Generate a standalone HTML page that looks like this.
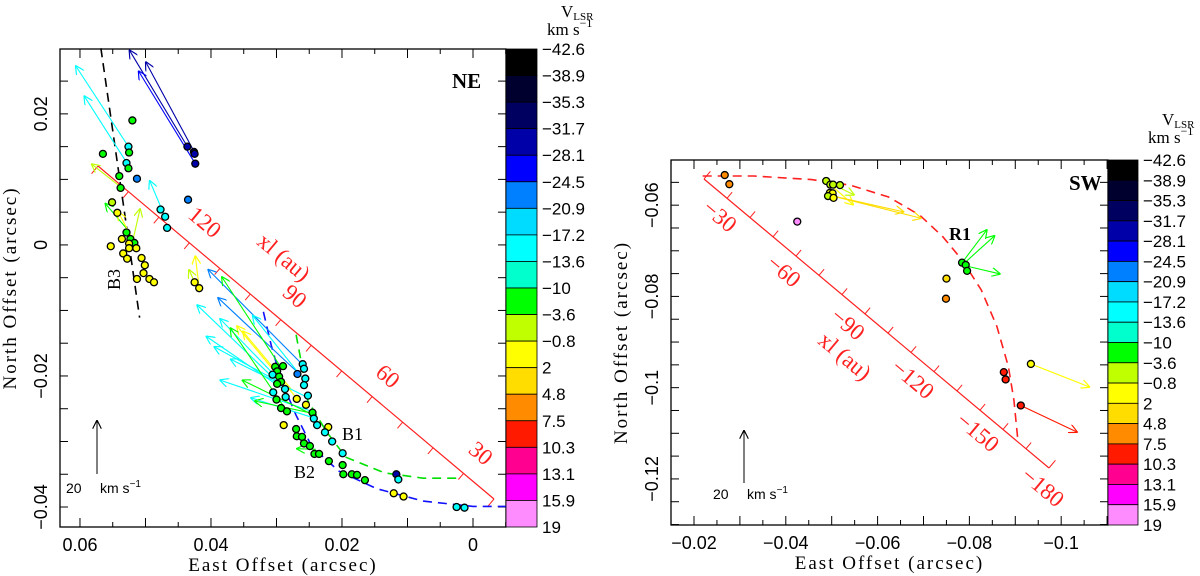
<!DOCTYPE html>
<html><head><meta charset="utf-8"><style>
html,body{margin:0;padding:0;background:#fff;}
svg{display:block;font-family:"Liberation Sans",sans-serif;}
</style></head><body>
<svg id="fig" width="1200" height="576" viewBox="0 0 1200 576">
<defs>
<marker id="ah" viewBox="0 0 10 10" refX="10" refY="5" markerWidth="9" markerHeight="9" orient="auto" markerUnits="userSpaceOnUse"><path d="M0,0 L10,5 L0,10" fill="none" stroke="context-stroke" stroke-width="1.3"/></marker>
</defs>
</svg>
<script>
const cbBounds=[-42.6,-38.9,-35.3,-31.7,-28.1,-24.5,-20.9,-17.2,-13.6,-10,-3.6,-0.8,2,4.8,7.5,10.3,13.1,15.9,19];
const cbColors=["#000000","#00002e","#000060","#0000a8","#0000ff","#0080ff","#00dcff","#00ffff","#00ffcc","#00ff00","#bfff00","#ffff00","#ffdd00","#ff8c00","#ff1a00","#ff0090","#ff00ff","#ff8cff"];
const cbLabels=["−42.6","−38.9","−35.3","−31.7","−28.1","−24.5","−20.9","−17.2","−13.6","−10","−3.6","−0.8","2","4.8","7.5","10.3","13.1","15.9","19"];

// NE panel spots: x (arcsec), y (arcsec), velocity
const neX=[0.0436,0.0426,0.0425,0.0424,0.0526,0.0525,0.0529,0.0526,0.0520,0.0565,0.0540,0.0513,0.0538,0.0551,0.0543,0.0435,0.0477,0.0470,0.0467,0.0529,0.0536,0.0523,0.0517,0.0525,0.0514,0.0525,0.0553,0.0534,0.0528,0.0506,0.0501,0.0503,0.0513,0.0494,0.0487,0.0425,0.0418,0.0302,0.0299,0.0290,0.0306,0.0296,0.0293,0.0299,0.0287,0.0305,0.0300,0.0286,0.0293,0.0284,0.0289,0.0269,0.0268,0.0260,0.0258,0.0256,0.0258,0.0252,0.0255,0.0245,0.0243,0.0238,0.0221,0.0226,0.0215,0.0270,0.0269,0.0261,0.0258,0.0249,0.0242,0.0235,0.0220,0.0199,0.0199,0.0198,0.0185,0.0177,0.0165,0.0117,0.0114,0.0121,0.0106,0.0025,0.0013];
const neY=[0.0150,0.0142,0.0139,0.0124,0.0150,0.0141,0.0125,0.0117,0.0190,0.0139,0.0105,0.0101,0.0087,0.0065,0.0049,0.0069,0.0054,0.0043,0.0026,0.0019,0.0009,0.0009,0.0003,0.0002,-0.0005,-0.0005,-0.0002,-0.0013,-0.0021,-0.0020,-0.0031,-0.0043,-0.0052,-0.0052,-0.0057,-0.0057,-0.0066,-0.0186,-0.0193,-0.0185,-0.0198,-0.0201,-0.0209,-0.0212,-0.0220,-0.0225,-0.0236,-0.0232,-0.0249,-0.0254,-0.0275,-0.0235,-0.0197,-0.0182,-0.0189,-0.0204,-0.0214,-0.0230,-0.0244,-0.0256,-0.0265,-0.0275,-0.0278,-0.0286,-0.0300,-0.0281,-0.0292,-0.0293,-0.0303,-0.0307,-0.0319,-0.0319,-0.0330,-0.0318,-0.0336,-0.0350,-0.0350,-0.0351,-0.0359,-0.0350,-0.0358,-0.0379,-0.0384,-0.0400,-0.0401];
const neV=[-30,-33,-30,-30,-15,-6,-15,-6,-6,-6,-6,-22,-6,-2,0,-22,-15,-15,-15,-6,0,-6,-6,0,0,0,0,0,0,0,0,0,0,0,0,0,0,-6,-6,-6,-15,-6,-6,-6,-15,-15,-6,-15,-6,-6,0,0,-22,-15,-15,-15,-15,-15,0,-6,-15,-15,0,-15,-15,-6,-6,-6,-6,-6,-6,-6,-6,-15,-6,-6,-6,-6,-6,-30,-15,0,0,-15,-15];
// NE panel proper-motion vectors
const neAX0=[0.0436,0.0425,0.0424,0.0526,0.0529,0.0536,0.0469,0.0528,0.0522,0.0519,0.0425,0.0418,0.0261,0.0264,0.0287,0.0293,0.0296,0.0287,0.0302,0.0270,0.0276,0.0258,0.0252,0.0246,0.0243,0.0240,0.0245,0.0284,0.0240];
const neAY0=[0.0150,0.0141,0.0124,0.0150,0.0126,0.0087,0.0040,0.0024,0.0013,0.0008,-0.0057,-0.0066,-0.0182,-0.0198,-0.0220,-0.0187,-0.0206,-0.0222,-0.0206,-0.0233,-0.0222,-0.0206,-0.0233,-0.0254,-0.0260,-0.0265,-0.0257,-0.0254,-0.0312];
const neAX1=[0.0525,0.0500,0.0511,0.0607,0.0594,0.0583,0.0494,0.0562,0.0542,0.0508,0.0434,0.0424,0.0405,0.0390,0.0422,0.0384,0.0387,0.0408,0.0396,0.0361,0.0352,0.0337,0.0371,0.0387,0.0353,0.0340,0.0334,0.0371,0.0270];
const neAY1=[0.0298,0.0280,0.0266,0.0274,0.0228,0.0124,0.0099,0.0064,0.0051,0.0056,-0.0037,-0.0016,-0.0037,-0.0080,-0.0091,-0.0048,-0.0112,-0.0139,-0.0155,-0.0123,-0.0131,-0.0107,-0.0174,-0.0206,-0.0206,-0.0233,-0.0238,-0.0126,-0.0311];
const neAV=[-30,-30,-26,-15,-15,-2,-15,-6,0,-2,-2,0,-22,-22,-15,-6,-15,-15,-15,0,0,-15,-15,-15,-6,-15,-6,-6,-6];
// NE model curves
const neGreenX=[0.0270,0.0261,0.0252,0.0223,0.0194,0.0135,0.0076,0.0018];
const neGreenY=[-0.0137,-0.0185,-0.0238,-0.0286,-0.0324,-0.0348,-0.0356,-0.0356];
const neBlueX=[0.0320,0.0308,0.0293,0.0270,0.0246,0.0205,0.0147,0.0076,0.0,-0.005];
const neBlueY=[-0.0102,-0.0153,-0.0206,-0.0260,-0.0308,-0.0345,-0.0372,-0.0391,-0.0399,-0.0399];
const neB3X=[0.0568,0.0509];
const neB3Y=[0.0300,-0.0111];

// SW panel spots
const swX=[-0.0267,-0.0277,-0.0425,-0.0488,-0.0497,-0.0503,-0.0518,-0.0496,-0.0502,-0.0492,-0.0504,-0.0784,-0.0792,-0.0795,-0.0750,-0.0749,-0.0875,-0.0879,-0.0934,-0.0912];
const swY=[-0.0534,-0.0554,-0.0636,-0.0547,-0.0555,-0.0555,-0.0556,-0.0573,-0.0574,-0.0580,-0.0584,-0.0726,-0.0731,-0.0744,-0.0761,-0.0805,-0.0966,-0.0982,-0.0948,-0.1039];
const swV=[6,6,17,-2,-2,-2,-2,0,0,-2,0,-6,-6,-6,3,6,9,9,0,9];
const swAX0=[-0.0503,-0.0503,-0.0503,-0.0503,-0.0784,-0.0788,-0.0792,-0.0934,-0.0912];
const swAY0=[-0.0555,-0.0560,-0.0580,-0.0580,-0.0726,-0.0728,-0.0733,-0.0948,-0.1039];
const swAX1=[-0.0550,-0.0548,-0.0658,-0.0696,-0.0839,-0.0856,-0.0868,-0.1063,-0.1036];
const swAY1=[-0.0578,-0.0600,-0.0615,-0.0629,-0.0653,-0.0666,-0.0751,-0.0999,-0.1098];
const swAV=[-2,0,3,3,-6,-6,-6,0,9];
const swCurveX=[-0.0219,-0.0330,-0.0456,-0.0540,-0.0624,-0.0692,-0.0742,-0.0784,-0.0826,-0.0860,-0.0885,-0.0897,-0.0906];
const swCurveY=[-0.0536,-0.0536,-0.0544,-0.0556,-0.0582,-0.0622,-0.0669,-0.0720,-0.0786,-0.0866,-0.0954,-0.1027,-0.1118];

const NS='http://www.w3.org/2000/svg';
const svg=document.getElementById('fig');
function mk(tag,attrs,parent,text){const e=document.createElementNS(NS,tag);for(const k in attrs)e.setAttribute(k,attrs[k]);if(text!==undefined)e.textContent=text;(parent||svg).appendChild(e);return e;}
function vcol(v){for(let i=0;i<cbColors.length;i++){if(v<=cbBounds[i+1])return cbColors[i];}return cbColors[cbColors.length-1];}

function panel(P){
  const g=mk('g',{});
  
  
  const sx=v=>P.x0+(v-P.xa)/(P.xb-P.xa)*(P.x1-P.x0);
  const sy=v=>P.y0+(v-P.ya)/(P.yb-P.ya)*(P.y1-P.y0);
  P.sx=sx;P.sy=sy;
  const fr=mk('rect',{x:P.x0,y:P.y0,width:P.x1-P.x0,height:P.y1-P.y0,fill:'none',stroke:'#000','stroke-width':1.3},g);
  
  
  const xs=Math.min(P.xa,P.xb),xe=Math.max(P.xa,P.xb);
  for(let t=Math.ceil(xs/0.005-1e-6)*0.005;t<=xe+1e-9;t+=0.005){
    const px=sx(t);const major=Math.abs(Math.round(t/0.01)*0.01-t)<1e-6;const L=major?9:5;
    mk('line',{x1:px,y1:P.y1,x2:px,y2:P.y1-L,stroke:'#000','stroke-width':1},g);
    mk('line',{x1:px,y1:P.y0,x2:px,y2:P.y0+L,stroke:'#000','stroke-width':1},g);
  }
  const ys=Math.min(P.ya,P.yb),ye=Math.max(P.ya,P.yb);
  for(let t=Math.ceil(ys/0.005-1e-6)*0.005;t<=ye+1e-9;t+=0.005){
    const py=sy(t);
    mk('line',{x1:P.x0,y1:py,x2:P.x0+8,y2:py,stroke:'#000','stroke-width':1},g);
    mk('line',{x1:P.x1,y1:py,x2:P.x1-8,y2:py,stroke:'#000','stroke-width':1},g);
  }
  P.xTicks.forEach((t,i)=>{const e=mk('text',{x:sx(t),y:P.y1+24,'font-size':18,'text-anchor':'middle'},g,P.xTickLabels[i]);
    });
  P.yTicks.forEach((t,i)=>{const py=sy(t);const e=mk('text',{x:P.x0-13,y:py,'font-size':18,'text-anchor':'middle',transform:`rotate(-90 ${P.x0-13} ${py})`},g,P.yTickLabels[i]);
    });
  const xt=mk('text',{x:(P.x0+P.x1)/2,y:P.y1+44,'font-size':19,'text-anchor':'middle','font-family':'Liberation Serif, serif','letter-spacing':'2'},g,'East Offset (arcsec)');
  
  const yx=P.x0-44,yy=(P.y0+P.y1)/2;
  const yt=mk('text',{x:yx,y:yy,'font-size':19,'text-anchor':'middle','font-family':'Liberation Serif, serif','letter-spacing':'2',transform:`rotate(-90 ${yx} ${yy})`},g,'North Offset (arcsec)');
  
  const cb=mk('g',{},g);
  
  const h=(P.y1-P.y0)/cbColors.length;
  cbColors.forEach((c,i)=>{const r=mk('rect',{x:P.x1,y:P.y0+i*h,width:P.cbw,height:h,fill:c,stroke:'#000','stroke-width':0.8},cb);
    });
  cbLabels.forEach((l,i)=>{const e=mk('text',{x:P.x1+P.cbw+5,y:P.y0+i*h+6,'font-size':17},cb,l);
    });
  const hx=P.x1+P.cbw+8;
  const v=mk('text',{x:hx+16,y:P.y0-P.hdr1,'font-size':17,'font-family':'Liberation Serif, serif'},cb);
  
  mk('tspan',{},v,'V');mk('tspan',{'font-size':11,dy:3},v,'LSR');
  const k=mk('text',{x:hx+2,y:P.y0-P.hdr2,'font-size':17,'font-family':'Liberation Serif, serif'},cb);
  
  mk('tspan',{},k,'km  s');mk('tspan',{'font-size':12,dy:-8},k,'−1');
  return g;
}
function curve(P,g,X,Y,color,name){
  const d=X.map((x,i)=>(i?'L':'M')+P.sx(x).toFixed(1)+','+P.sy(Y[i]).toFixed(1)).join(' ');
  const p=mk('path',{d:d,fill:'none',stroke:color,'stroke-width':1.6,'stroke-dasharray':'9 6'},g);
  
}
function arrows(P,g,X0,Y0,X1,Y1,V){
  X0.forEach((x,i)=>{const c=vcol(V[i]);
    const a=mk('line',{x1:P.sx(x),y1:P.sy(Y0[i]),x2:P.sx(X1[i]),y2:P.sy(Y1[i]),stroke:c,'stroke-width':1.1,'marker-end':'url(#ah)'},g);
    });
}
function spots(P,g,X,Y,V){
  X.forEach((x,i)=>{const s=mk('circle',{cx:P.sx(x),cy:P.sy(Y[i]),r:3.5,fill:vcol(V[i]),stroke:'#000','stroke-width':1.3},g);
    });
}
function redAxis(g,ax,ay,bx,by,nt,side,labels,name){
  const ag=mk('g',{},g);
  mk('line',{x1:ax,y1:ay,x2:bx,y2:by,stroke:'#ff2020','stroke-width':1.2},ag);
  const L=Math.hypot(bx-ax,by-ay),ux=(bx-ax)/L,uy=(by-ay)/L;const nx=uy*side,ny=-ux*side;
  for(let i=0;i<=nt;i++){const px=ax+ux*L*i/nt,py=ay+uy*L*i/nt;const l=(i==0||i==nt)?10:8;
    mk('line',{x1:px,y1:py,x2:px+nx*l,y2:py+ny*l,stroke:'#ff2020','stroke-width':1},ag);}
  labels.forEach(t=>{const e=mk('text',{x:t[0],y:t[1],'font-size':23,fill:'#ff2020','text-anchor':'middle','font-family':'Liberation Serif, serif',transform:`rotate(40 ${t[0]} ${t[1]})`},ag,t[2]);
    });
}
function txt(x,y,s,size,name,extra){const e=mk('text',Object.assign({x:x,y:y,'font-size':size,'font-family':'Liberation Serif, serif'},extra||{}),svg,s);
  return e;}
function scaleArrow(x,ya,yb,lx,ly){
  const g=mk('g',{});
  mk('line',{x1:x,y1:ya,x2:x,y2:yb,stroke:'#000','stroke-width':1,'marker-end':'url(#ah)'},g);
  mk('text',{x:lx,y:ly,'font-size':14},g,'20');
  const k=mk('text',{x:lx+34,y:ly,'font-size':14},g);mk('tspan',{},k,'km  s');mk('tspan',{'font-size':10,dy:-6},k,'−1');
}

const NE={name:'ne-panel',x0:60,x1:506,y0:49,y1:527,xa:0.06305,xb:-0.00504,ya:0.0299,yb:-0.04305,cbw:31,hdr1:32,hdr2:14,
  xTicks:[0.06,0.04,0.02,0],xTickLabels:['0.06','0.04','0.02','0'],yTicks:[0.02,0,-0.02,-0.04],yTickLabels:['0.02','0','−0.02','−0.04']};
const gNE=panel(NE);
redAxis(gNE,98,166,494,499,13,-1,[[200,228,'120'],[290,302,'90'],[383,382,'60'],[476,459,'30'],[279,263,'xl (au)']],'xl-axis-ne');
curve(NE,gNE,neGreenX,neGreenY,'#00e000','model-curve-green');
curve(NE,gNE,neBlueX,neBlueY,'#1010ff','model-curve-blue');
curve(NE,gNE,neB3X,neB3Y,'#000','b3-line');
arrows(NE,gNE,neAX0,neAY0,neAX1,neAY1,neAV);
spots(NE,gNE,neX,neY,neV);
txt(452,88,'NE',21,'panel-label-ne',{'font-weight':'bold'});
txt(120,290,'B3',18,'label-b3',{transform:'rotate(-90 120 290)'});
txt(342,440,'B1',18,'label-b1');
txt(294,478,'B2',18,'label-b2');
scaleArrow(97,474,420,66,493);

const SW={name:'sw-panel',x0:671,x1:1108,y0:160,y1:525,xa:-0.01499,xb:-0.1102,ya:-0.0501,yb:-0.1301,cbw:30,hdr1:35,hdr2:17,
  xTicks:[-0.02,-0.04,-0.06,-0.08,-0.1],xTickLabels:['−0.02','−0.04','−0.06','−0.08','−0.1'],yTicks:[-0.06,-0.08,-0.1,-0.12],yTickLabels:['−0.06','−0.08','−0.1','−0.12']};
const gSW=panel(SW);
redAxis(gSW,704,179,1049,468,15,1,[[715,222,'−30'],[779,277,'−60'],[843,330,'−90'],[908,385,'−120'],[973,438,'−150'],[1038,493,'−180'],[840,362,'xl (au)']],'xl-axis-sw');
curve(SW,gSW,swCurveX,swCurveY,'#ff2020','model-curve-red');
arrows(SW,gSW,swAX0,swAY0,swAX1,swAY1,swAV);
spots(SW,gSW,swX,swY,swV);
txt(1069,190,'SW',21,'panel-label-sw',{'font-weight':'bold'});
txt(949,240,'R1',18,'label-r1',{'font-weight':'bold'});
scaleArrow(744,483,430,713,499);
</script>
</body></html>
